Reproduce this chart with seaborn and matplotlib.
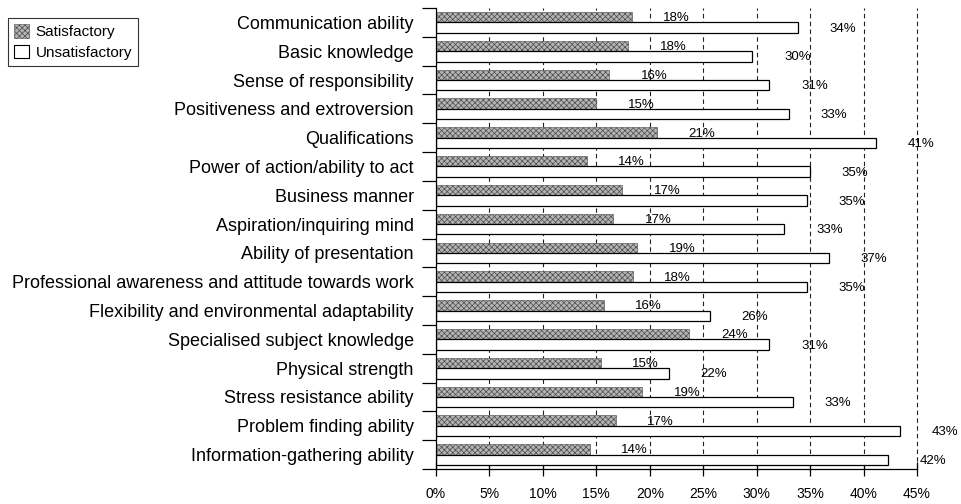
import pandas as pd
import numpy as np
import matplotlib
matplotlib.use("Agg")
import matplotlib.pyplot as plt
import matplotlib.patches as mpatches
from matplotlib.ticker import FixedLocator, FuncFormatter
import seaborn as sns

# ---------------------------------------------------------------
# Data (% of respondents)
# ---------------------------------------------------------------
categories = [
    "Communication ability", "Basic knowledge", "Sense of responsibility",
    "Positiveness and extroversion", "Qualifications",
    "Power of action/ability to act", "Business manner",
    "Aspiration/inquiring mind", "Ability of presentation",
    "Professional awareness and attitude towards work",
    "Flexibility and environmental adaptability",
    "Specialised subject knowledge", "Physical strength",
    "Stress resistance ability", "Problem finding ability",
    "Information-gathering ability",
]
satisfactory = [18.3, 18.0, 16.2, 15.0, 20.7, 14.1, 17.4, 16.6,
                18.8, 18.4, 15.7, 23.7, 15.4, 19.3, 16.8, 14.4]
unsatisfactory = [33.9, 29.6, 31.2, 33.0, 41.2, 35.0, 34.7, 32.6,
                  36.8, 34.7, 25.6, 31.2, 21.8, 33.4, 43.4, 42.3]
series = ["Satisfactory", "Unsatisfactory"]
x_ticks = [0, 5, 10, 15, 20, 25, 30, 35, 40, 45]

df = pd.DataFrame({
    "item": categories * 2,
    "status": [series[0]] * len(categories) + [series[1]] * len(categories),
    "pct": satisfactory + unsatisfactory,
})

sns.set_theme(style="white")
plt.rcParams["font.family"] = ["Liberation Sans", "DejaVu Sans"]
plt.rcParams["hatch.linewidth"] = 0.5
plt.rcParams["text.color"] = "black"
plt.rcParams["xtick.color"] = "black"
plt.rcParams["ytick.color"] = "black"

fig = plt.figure(figsize=(9.61, 5.04), dpi=100)
ax = fig.add_axes([436 / 961, 1 - 469 / 504, (917 - 436) / 961, (469 - 8) / 504])

# vertical dashed grid behind the bars
for t in x_ticks[1:]:
    ax.axvline(t, color="#222222", lw=0.8, ls=(0, (4, 3)), zorder=0,
               clip_on=False)

sns.barplot(data=df, y="item", x="pct", hue="status", order=categories,
            hue_order=series, orient="h", width=0.72, dodge=True,
            palette=["#a8a8a8", "white"], legend=False, ax=ax, zorder=2)

n = len(categories)
for i, p in enumerate(ax.patches[: 2 * n]):
    if i < n:
        p.set_facecolor("#b4b4b4")
        p.set_edgecolor("#4a4a4a")
        p.set_hatch("xxxxxx")
        p.set_linewidth(0.4)
    else:
        p.set_facecolor("white")
        p.set_edgecolor("black")
        p.set_linewidth(0.9)
    v = p.get_width()
    ax.text(v + 4.2, p.get_y() + p.get_height() * 0.6, f"{round(v):.0f}%",
            ha="center", va="center", fontsize=9.5, color="black",
            clip_on=False, zorder=3)

ax.set_xlim(0, 45)
ax.set_ylim(n - 0.5, -0.5)
ax.set_xlabel("")
ax.set_ylabel("")

ax.xaxis.set_major_locator(FixedLocator(x_ticks))
ax.xaxis.set_major_formatter(FuncFormatter(lambda v, _: f"{v:.0f}%"))
ax.tick_params(axis="x", direction="inout", length=10, width=0.9,
               labelsize=10, pad=8, colors="black", bottom=True)

ax.set_yticks(range(n))
ax.set_yticklabels(categories, fontsize=13, color="black")
ax.set_yticks(np.arange(-0.5, n, 1.0), minor=True)
ax.tick_params(axis="y", which="major", length=0, pad=16, left=True)
ax.tick_params(axis="y", which="minor", direction="out", length=10,
               width=0.9, color="black", left=True)

for s in ["top", "right"]:
    ax.spines[s].set_visible(False)
for s in ["left", "bottom"]:
    ax.spines[s].set_color("black")
    ax.spines[s].set_linewidth(0.9)

handles = [
    mpatches.Patch(facecolor="#b4b4b4", edgecolor="#4a4a4a", hatch="xxxxxx",
                   linewidth=0.4, label="Satisfactory"),
    mpatches.Patch(facecolor="white", edgecolor="black", linewidth=0.8,
                   label="Unsatisfactory"),
]
leg = fig.legend(handles=handles, loc="upper left",
                 bbox_to_anchor=(8 / 961, 1 - 18 / 504), fontsize=11,
                 frameon=True, fancybox=False, edgecolor="black",
                 handlelength=1.0, handleheight=1.0, handletextpad=0.4,
                 borderpad=0.4, labelspacing=0.35, borderaxespad=0)
leg.get_frame().set_linewidth(0.8)

fig.savefig("out.png", dpi=100)
